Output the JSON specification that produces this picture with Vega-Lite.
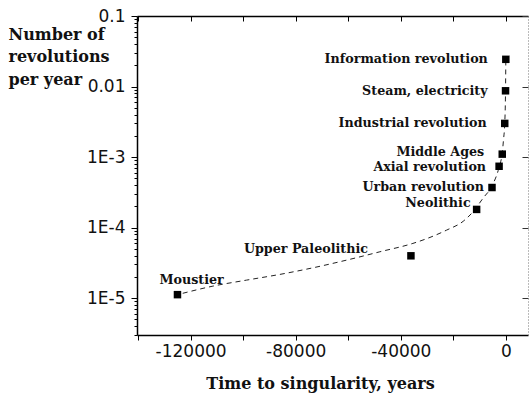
{
  "$schema": "https://vega.github.io/schema/vega-lite/v6.json",
  "autosize": {"type": "none"},
  "width": 391,
  "height": 319,
  "padding": {"left": 137, "top": 16, "right": 1, "bottom": 59},
  "background": "white",
  "config": {"view": {"stroke": null}},
  "datasets": {
    "events": [
      {"event": "Moustier", "t": -125000, "rate": 1.12e-5},
      {"event": "Upper Paleolithic", "t": -36150, "rate": 3.98e-5},
      {"event": "Neolithic", "t": -11150, "rate": 1.81e-4},
      {"event": "Urban revolution", "t": -5300, "rate": 3.7e-4},
      {"event": "Axial revolution", "t": -2600, "rate": 7.4e-4},
      {"event": "Middle Ages", "t": -1400, "rate": 1.1e-3},
      {"event": "Industrial revolution", "t": -450, "rate": 3.0e-3},
      {"event": "Steam, electricity", "t": -150, "rate": 8.7e-3},
      {"event": "Information revolution", "t": -40, "rate": 0.0243}
    ],
    "curve": [
      {"t": -123000, "rate": 1.17e-5},
      {"t": -111500, "rate": 1.48e-5},
      {"t": -98700, "rate": 1.8e-5},
      {"t": -86000, "rate": 2.17e-5},
      {"t": -73450, "rate": 2.69e-5},
      {"t": -60600, "rate": 3.46e-5},
      {"t": -47960, "rate": 4.54e-5},
      {"t": -35400, "rate": 5.97e-5},
      {"t": -28900, "rate": 7.26e-5},
      {"t": -22600, "rate": 9.2e-5},
      {"t": -16250, "rate": 1.23e-4},
      {"t": -12560, "rate": 1.67e-4},
      {"t": -8750, "rate": 2.6e-4},
      {"t": -5300, "rate": 3.9e-4},
      {"t": -2600, "rate": 7.2e-4},
      {"t": -1400, "rate": 1.15e-3},
      {"t": -900, "rate": 1.8e-3},
      {"t": -450, "rate": 3.0e-3},
      {"t": -150, "rate": 8.7e-3},
      {"t": -40, "rate": 0.0243}
    ]
  },
  "layer": [
    {
      "data": {"name": "curve"},
      "mark": {"type": "line", "color": "#222", "strokeWidth": 1, "strokeDash": [5, 4], "interpolate": "monotone"},
      "encoding": {
        "x": {
          "field": "t", "type": "quantitative",
          "scale": {"domain": [-140400, 8400], "nice": false, "zero": false},
          "axis": {
            "orient": "bottom",
            "values": [-140000, -120000, -100000, -80000, -60000, -40000, -20000, 0],
            "labelExpr": "datum.value % 40000 == 0 ? '' + datum.value : ''",
            "labelOverlap": false,
            "labelFont": "DejaVu Sans", "labelFontSize": 17, "labelColor": "#111",
            "labelPadding": 3,
            "tickSize": 5, "tickColor": "#000", "domainColor": "#000", "domainWidth": 1.5,
            "grid": false,
            "title": "Time to singularity, years",
            "titleFont": "DejaVu Serif", "titleFontSize": 16, "titleFontWeight": "bold", "titleColor": "#111",
            "titleX": 183, "titleY": 53, "titleBaseline": "alphabetic", "titleAlign": "center"
          }
        },
        "y": {
          "field": "rate", "type": "quantitative",
          "scale": {"type": "log", "domain": [3e-6, 0.1], "nice": false},
          "axis": {
            "orient": "left",
            "values": [3e-6, 4e-6, 5e-6, 6e-6, 7e-6, 8e-6, 9e-6, 1e-5, 2e-5, 3e-5, 4e-5, 5e-5, 6e-5, 7e-5, 8e-5, 9e-5, 1e-4, 2e-4, 3e-4, 4e-4, 5e-4, 6e-4, 7e-4, 8e-4, 9e-4, 1e-3, 2e-3, 3e-3, 4e-3, 5e-3, 6e-3, 7e-3, 8e-3, 9e-3, 0.01, 0.02, 0.03, 0.04, 0.05, 0.06, 0.07, 0.08, 0.09, 0.1],
            "labelExpr": "abs(log(datum.value)/LN10 - round(log(datum.value)/LN10)) > 0.01 ? '' : round(log(datum.value)/LN10) == -1 ? '0.1' : round(log(datum.value)/LN10) == -2 ? '0.01' : '1E' + round(log(datum.value)/LN10)",
            "labelOverlap": false, "labelBound": false, "labelFlush": false,
            "labelFont": "DejaVu Sans", "labelFontSize": 17, "labelColor": "#111",
            "labelPadding": 6,
            "tickSize": {"condition": {"test": "abs(log(datum.value)/LN10 - round(log(datum.value)/LN10)) < 0.01", "value": 6}, "value": 3},
            "tickColor": "#000", "domainColor": "#000", "domainWidth": 1.5,
            "grid": false,
            "title": ["Number of", "revolutions", "per year"],
            "titleFont": "DejaVu Serif", "titleFontSize": 16, "titleFontWeight": "bold", "titleColor": "#111",
            "titleAngle": 0, "titleAlign": "left", "titleBaseline": "alphabetic",
            "titleX": -129, "titleY": 23, "titleLineHeight": 22.5
          }
        }
      }
    },
    {
      "data": {"name": "events"},
      "mark": {"type": "point", "shape": "square", "filled": true, "color": "#000", "size": 56, "opacity": 1},
      "encoding": {
        "x": {
          "field": "t", "type": "quantitative",
          "axis": {
            "orient": "top",
            "values": [-140000, -120000, -100000, -80000, -60000, -40000, -20000, 0],
            "labels": false, "tickSize": -5, "tickColor": "#000", "domainColor": "#000", "domainWidth": 1.5,
            "grid": false, "title": null
          }
        },
        "y": {
          "field": "rate", "type": "quantitative",
          "axis": {
            "orient": "right",
            "values": [1e-5, 1e-4, 1e-3, 0.01, 0.1],
            "labels": false, "tickSize": -6, "tickColor": "#333",
            "domainColor": "#777", "domainDash": [1, 2], "domainWidth": 1,
            "grid": false, "title": null
          }
        }
      }
    },
    {
      "data": {"name": "events"},
      "transform": [{"filter": {"field": "event", "oneOf": ["Information revolution", "Steam, electricity", "Industrial revolution"]}}],
      "mark": {"type": "text", "align": "right", "baseline": "middle", "dx": -18, "font": "DejaVu Serif", "fontSize": 12.7, "fontWeight": "bold", "color": "#111"},
      "encoding": {
        "x": {"field": "t", "type": "quantitative", "axis": null},
        "y": {"field": "rate", "type": "quantitative", "axis": null},
        "text": {"field": "event"}
      }
    },
    {
      "data": {"name": "events"},
      "transform": [{"filter": {"field": "event", "equal": "Middle Ages"}}],
      "mark": {"type": "text", "align": "right", "baseline": "middle", "dx": -18, "dy": -2, "font": "DejaVu Serif", "fontSize": 12.7, "fontWeight": "bold", "color": "#111"},
      "encoding": {
        "x": {"field": "t", "type": "quantitative", "axis": null},
        "y": {"field": "rate", "type": "quantitative", "axis": null},
        "text": {"field": "event"}
      }
    },
    {
      "data": {"name": "events"},
      "transform": [{"filter": {"field": "event", "equal": "Axial revolution"}}],
      "mark": {"type": "text", "align": "right", "baseline": "middle", "dx": -13, "dy": 1, "font": "DejaVu Serif", "fontSize": 12.7, "fontWeight": "bold", "color": "#111"},
      "encoding": {
        "x": {"field": "t", "type": "quantitative", "axis": null},
        "y": {"field": "rate", "type": "quantitative", "axis": null},
        "text": {"field": "event"}
      }
    },
    {
      "data": {"name": "events"},
      "transform": [{"filter": {"field": "event", "equal": "Urban revolution"}}],
      "mark": {"type": "text", "align": "right", "baseline": "middle", "dx": -8, "dy": -1, "font": "DejaVu Serif", "fontSize": 12.7, "fontWeight": "bold", "color": "#111"},
      "encoding": {
        "x": {"field": "t", "type": "quantitative", "axis": null},
        "y": {"field": "rate", "type": "quantitative", "axis": null},
        "text": {"field": "event"}
      }
    },
    {
      "data": {"name": "events"},
      "transform": [{"filter": {"field": "event", "equal": "Neolithic"}}],
      "mark": {"type": "text", "align": "right", "baseline": "middle", "dx": -6, "dy": -6, "font": "DejaVu Serif", "fontSize": 12.7, "fontWeight": "bold", "color": "#111"},
      "encoding": {
        "x": {"field": "t", "type": "quantitative", "axis": null},
        "y": {"field": "rate", "type": "quantitative", "axis": null},
        "text": {"field": "event"}
      }
    },
    {
      "data": {"name": "events"},
      "transform": [{"filter": {"field": "event", "equal": "Upper Paleolithic"}}],
      "mark": {"type": "text", "align": "right", "baseline": "middle", "dx": -43, "dy": -7, "font": "DejaVu Serif", "fontSize": 12.7, "fontWeight": "bold", "color": "#111"},
      "encoding": {
        "x": {"field": "t", "type": "quantitative", "axis": null},
        "y": {"field": "rate", "type": "quantitative", "axis": null},
        "text": {"field": "event"}
      }
    },
    {
      "data": {"name": "events"},
      "transform": [{"filter": {"field": "event", "equal": "Moustier"}}],
      "mark": {"type": "text", "align": "left", "baseline": "middle", "dx": -18, "dy": -15, "font": "DejaVu Serif", "fontSize": 12.7, "fontWeight": "bold", "color": "#111"},
      "encoding": {
        "x": {"field": "t", "type": "quantitative", "axis": null},
        "y": {"field": "rate", "type": "quantitative", "axis": null},
        "text": {"field": "event"}
      }
    }
  ],
  "resolve": {"axis": {"x": "independent", "y": "independent"}}
}
